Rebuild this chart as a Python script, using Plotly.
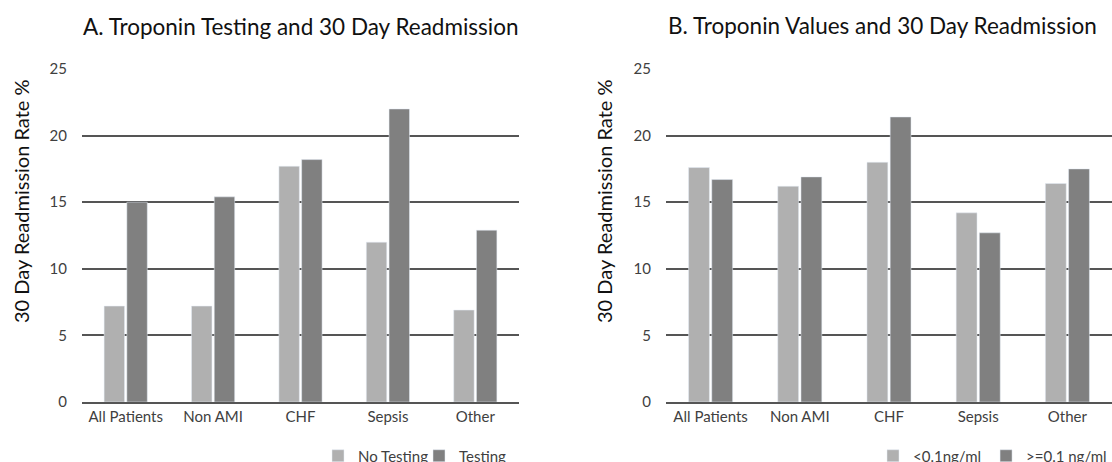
import plotly.graph_objects as go

categories = ["All Patients", "Non AMI", "CHF", "Sepsis", "Other"]
a_no_testing = [7.2, 7.2, 17.7, 12.0, 6.9]
a_testing = [15.0, 15.4, 18.2, 22.0, 12.9]
b_low = [17.6, 16.2, 18.0, 14.2, 16.4]
b_high = [16.7, 16.9, 21.4, 12.7, 17.5]
y_ticks = [0, 5, 10, 15, 20, 25]

LIGHT = "#b0b0b0"
DARK = "#808080"
FONT = "Lato"
W, H = 1112, 462

fig = go.Figure()
fig.add_trace(go.Bar(x=categories, y=a_no_testing, name="No Testing", marker_color=LIGHT,
                     xaxis="x", yaxis="y", legend="legend"))
fig.add_trace(go.Bar(x=categories, y=a_testing, name="Testing", marker_color=DARK,
                     xaxis="x", yaxis="y", legend="legend"))
fig.add_trace(go.Bar(x=categories, y=b_low, name="<0.1ng/ml", marker_color=LIGHT,
                     xaxis="x2", yaxis="y2", legend="legend2"))
fig.add_trace(go.Bar(x=categories, y=b_high, name=">=0.1 ng/ml", marker_color=DARK,
                     xaxis="x2", yaxis="y2", legend="legend2"))

yax = dict(range=[0, 25], tickvals=y_ticks, showgrid=True, gridcolor="#555555", gridwidth=1.5,
           zeroline=False, showline=False, automargin=False,
           tickfont=dict(size=15, color="#404040", family=FONT),
           ticklabelstandoff=14, domain=[1 - 402 / H, 1 - 69 / H])
xax = dict(showline=True, linecolor="#555555", linewidth=1.5, ticks="", automargin=False,
           tickfont=dict(size=15, color="#404040", family=FONT))

leg_font = dict(size=15, color="#404040", family=FONT)

fig.update_layout(
    width=W, height=H,
    margin=dict(l=0, r=0, t=0, b=0, autoexpand=False),
    paper_bgcolor="white", plot_bgcolor="white",
    font=dict(family=FONT, color="#404040"),
    barmode="group", bargap=0.48, bargroupgap=0.1,
    xaxis=dict(xax, domain=[82 / W, 519 / W], anchor="y"),
    yaxis=dict(yax, anchor="x"),
    xaxis2=dict(xax, domain=[666 / W, 1.0], anchor="y2"),
    yaxis2=dict(yax, anchor="x2"),
    legend=dict(orientation="h", x=318 / W, xanchor="left", y=1 - 456 / H, yanchor="middle",
                font=leg_font, bgcolor="rgba(0,0,0,0)", entrywidth=56,
                itemwidth=30, tracegroupgap=0),
    legend2=dict(orientation="h", x=1.0, xanchor="right", y=1 - 456 / H, yanchor="middle",
                 font=leg_font, bgcolor="rgba(0,0,0,0)",
                 itemwidth=30, tracegroupgap=0),
    showlegend=True,
    annotations=[
        dict(text="A. Troponin Testing and 30 Day Readmission", x=301 / W, y=1 - 27 / H,
             xanchor="center", yanchor="middle",
             xref="paper", yref="paper", showarrow=False, font=dict(size=22.5, color="#111111", family=FONT)),
        dict(text="B. Troponin Values and 30 Day Readmission", x=883 / W, y=1 - 25 / H,
             xanchor="center", yanchor="middle",
             xref="paper", yref="paper", showarrow=False, font=dict(size=22.5, color="#111111", family=FONT)),
        dict(text="30 Day Readmission Rate %", x=21 / W, y=1 - 201 / H, textangle=-90,
             xanchor="center", yanchor="middle",
             xref="paper", yref="paper", showarrow=False, font=dict(size=20, color="#111111", family=FONT)),
        dict(text="30 Day Readmission Rate %", x=604 / W, y=1 - 201 / H, textangle=-90,
             xanchor="center", yanchor="middle",
             xref="paper", yref="paper", showarrow=False, font=dict(size=20, color="#111111", family=FONT)),
    ],
)

fig.write_html("out.html", post_script="document.body.style.margin='0px';",
               config={"displayModeBar": False})
